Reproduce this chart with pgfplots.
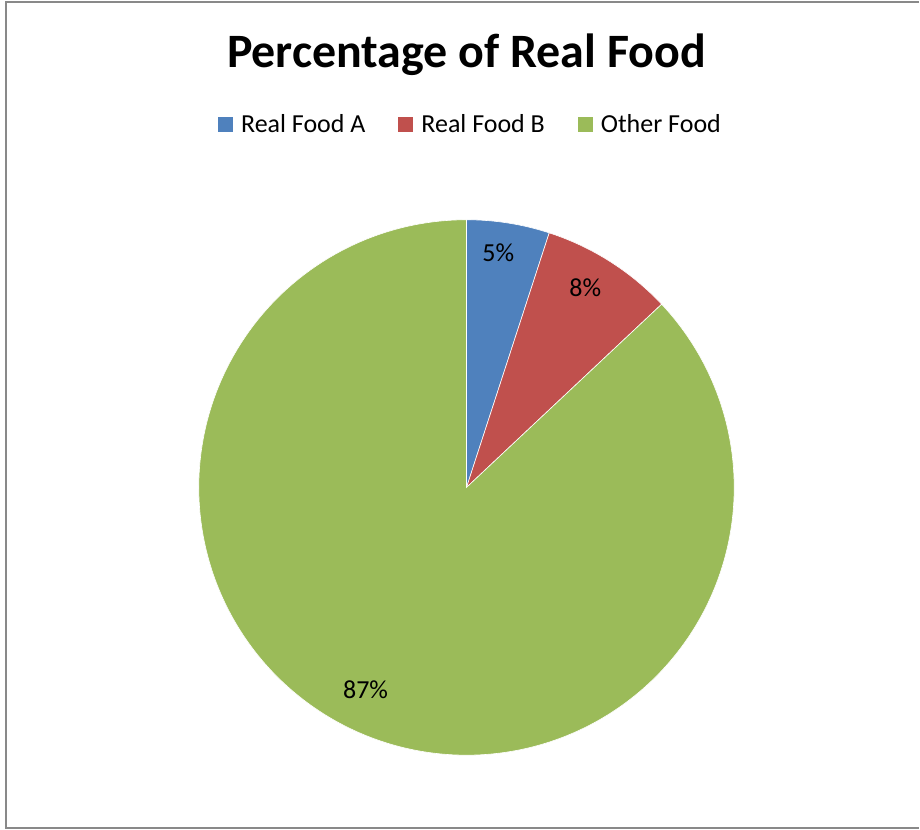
\documentclass[border=0pt]{standalone}
\usepackage{pgfplots}
\usepackage{pgfplotstable}
\pgfplotsset{compat=1.18}
\usepackage{fontspec}
\setmainfont{Carlito}
\definecolor{pieblue}{HTML}{4F81BD}
\definecolor{piered}{HTML}{C0504D}
\definecolor{piegreen}{HTML}{9BBB59}
\definecolor{framegray}{HTML}{898989}
\pgfplotstableread{
label value
A 5
B 8
Other 87
}\datatable
\pgfplotstablegetelem{0}{value}\of\datatable \let\va\pgfplotsretval
\pgfplotstablegetelem{1}{value}\of\datatable \let\vb\pgfplotsretval
\pgfplotstablegetelem{2}{value}\of\datatable \let\vc\pgfplotsretval
\pgfmathsetmacro\aA{90-3.6*\va}
\pgfmathsetmacro\aB{\aA-3.6*\vb}
\pgfmathsetmacro\aC{\aB-3.6*\vc}
\begin{document}
\begin{tikzpicture}
\begin{axis}[
  width=920pt, height=830pt, scale only axis,
  hide axis, clip=false,
  xmin=-1.7425, xmax=1.6903, ymin=-1.2761, ymax=1.8209,
  legend columns=3,
  legend style={draw=none, fill=none, at={(axis cs:0.015,1.356)}, anchor=center,
    font=\fontsize{26}{30}\selectfont,
    /tikz/every odd column/.append style={column sep=6pt},
    /tikz/every even column/.append style={column sep=31pt}},
  legend image code/.code={\fill[#1,draw=none] (0pt,-7.5pt) rectangle (15pt,7.5pt);},
]
\path[fill=white] (axis cs:-1.7425,-1.2761) rectangle (axis cs:1.6903,1.8209);
\addplot[fill=pieblue, draw=white, line width=0.6pt, domain=\aA:90, samples=40, variable=\t]
  ({cos(\t)},{sin(\t)}) -- (axis cs:0,0) -- cycle;
\addlegendentry{Real Food A}
\addplot[fill=piered, draw=white, line width=0.6pt, domain=\aB:\aA, samples=50, variable=\t]
  ({cos(\t)},{sin(\t)}) -- (axis cs:0,0) -- cycle;
\addlegendentry{Real Food B}
\addplot[fill=piegreen, draw=white, line width=0.6pt, domain=\aC:\aB, samples=300, variable=\t]
  ({cos(\t)},{sin(\t)}) -- (axis cs:0,0) -- cycle;
\addlegendentry{Other Food}
\node[font=\fontsize{26}{30}\selectfont] at (axis cs:0.119,0.877) {\va\%};
\node[font=\fontsize{26}{30}\selectfont] at (axis cs:0.444,0.746) {\vb\%};
\node[font=\fontsize{26}{30}\selectfont] at (axis cs:-0.377,-0.757) {\vc\%};
\node[font=\fontsize{48}{58}\selectfont\bfseries] at (axis cs:0,1.618) {Percentage of Real Food};
\draw[framegray, line width=2pt] (axis cs:1.6903,1.8116) -- (axis cs:-1.720,1.8116) -- (axis cs:-1.720,-1.2705) -- (axis cs:1.6903,-1.2705);
\end{axis}
\end{tikzpicture}
\end{document}
